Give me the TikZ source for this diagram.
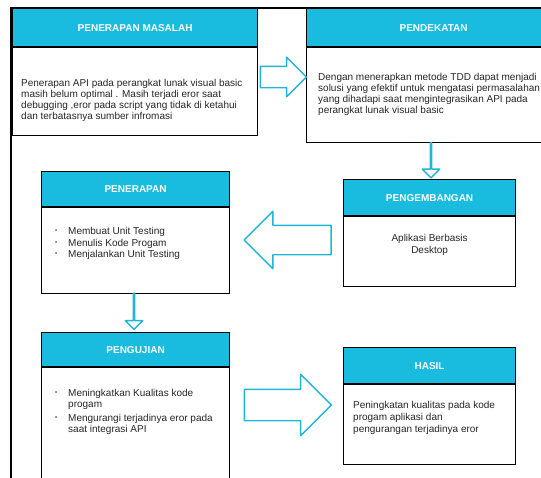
\documentclass[tikz,border=0pt]{standalone}
\usepackage{fontspec}
\setmainfont{Liberation Sans}
\usepackage{xcolor}
\usetikzlibrary{positioning, shapes.arrows}

\definecolor{headcyan}{RGB}{25,187,222}
\definecolor{arrowcyan}{RGB}{32,180,216}

\newcommand{\bulletmark}{\makebox[13pt][l]{\raisebox{1.8pt}{\fontsize{6}{6}\selectfont\textbullet}}}
\newcommand{\bulletgap}{\hspace*{13pt}}

\begin{document}
\begin{tikzpicture}[
    x=1pt, y=-1pt,
    every node/.style={inner sep=0pt},
    head/.style={draw, line width=1.2pt, fill=headcyan, text=white, font=\bfseries\fontsize{10}{12}\selectfont, anchor=north west},
    body/.style={draw, line width=1.2pt, fill=white},
    txt/.style={align=left, font=\fontsize{10}{11}\selectfont, text=black!85},
    flow/.style={single arrow, draw=arrowcyan, line width=1.4pt, line join=round}
]
\useasboundingbox (0,0) rectangle (541,477);
\clip (0,0) rectangle (541,477);

% Frame
\draw[line width=1.3pt] (11,490) |- (560,8);

% Nodes
\node[head, minimum width=245pt, minimum height=38pt] (masalah) at (12,8) {PENERAPAN MASALAH};
\node[body, minimum width=245pt, minimum height=88pt, below=0pt of masalah] (masalahB) {};
\node[txt, below right=32pt and 9pt of masalahB.north west] (masalahT)
    {Penerapan API pada perangkat lunak visual basic\\masih belum optimal . Masih terjadi eror saat\\debugging ,eror pada script yang tidak di ketahui\\dan terbatasnya sumber infromasi};

\node[head, minimum width=254pt, minimum height=38pt] (pendekatan) at (306,8) {PENDEKATAN};
\node[body, minimum width=254pt, minimum height=95pt, below=0pt of pendekatan] (pendekatanB) {};
\node[txt, below right=26pt and 12pt of pendekatanB.north west] (pendekatanT)
    {Dengan menerapkan metode TDD dapat menjadi\\solusi yang efektif untuk mengatasi permasalahan\\yang dihadapi saat mengintegrasikan API pada\\perangkat lunak visual basic};

\node[head, minimum width=188pt, minimum height=35pt] (penerapan) at (41,171) {PENERAPAN};
\node[body, minimum width=188pt, minimum height=86pt, below=0pt of penerapan] (penerapanB) {};
\node[txt, font=\fontsize{10}{11.5}\selectfont, below right=20pt and 14pt of penerapanB.north west] (penerapanT)
    {\bulletmark Membuat Unit Testing\\\bulletmark Menulis Kode Progam\\\bulletmark Menjalankan Unit Testing};

\node[head, minimum width=172pt, minimum height=36pt] (pengembangan) at (343,179) {PENGEMBANGAN};
\node[body, minimum width=172pt, minimum height=70pt, below=0pt of pengembangan] (pengembanganB) {};
\node[txt, align=center, font=\fontsize{10}{12}\selectfont, below=18pt of pengembanganB.north] (pengembanganT)
    {Aplikasi Berbasis\\Desktop};

\node[head, minimum width=188pt, minimum height=34pt] (pengujian) at (41,332) {PENGUJIAN};
\node[body, minimum width=188pt, minimum height=130pt, below=0pt of pengujian] (pengujianB) {};
\node[txt, below right=22pt and 14pt of pengujianB.north west] (pengujianT)
    {\bulletmark Meningkatkan Kualitas kode\\\bulletgap progam\\[3pt]\bulletmark Mengurangi terjadinya eror pada\\\bulletgap saat integrasi API};

\node[head, minimum width=172pt, minimum height=36pt] (hasil) at (343,347) {HASIL};
\node[body, minimum width=172pt, minimum height=80pt, below=0pt of hasil] (hasilB) {};
\node[txt, font=\fontsize{10}{12}\selectfont, below right=17pt and 10pt of hasilB.north west] (hasilT)
    {Peningkatan kualitas pada kode\\progam aplikasi dan\\pengurangan terjadinya eror};

% Edges
\node[flow, inner ysep=10pt, minimum height=46pt, single arrow head extend=9pt] (a1) at (278,77) {};
\node[flow, shape border rotate=270, inner ysep=6pt, minimum height=35pt, single arrow head extend=8pt] (a2) at (431,160) {};
\node[flow, shape border rotate=180, inner ysep=14pt, minimum height=87pt, single arrow head extend=14pt] (a3) at (295,240) {};
\node[flow, shape border rotate=270, inner ysep=6pt, minimum height=36pt, single arrow head extend=8pt] (a4) at (134,311) {};
\node[flow, inner ysep=15pt, minimum height=87pt, single arrow head extend=15pt] (a5) at (280,405) {};

\end{tikzpicture}
\end{document}
